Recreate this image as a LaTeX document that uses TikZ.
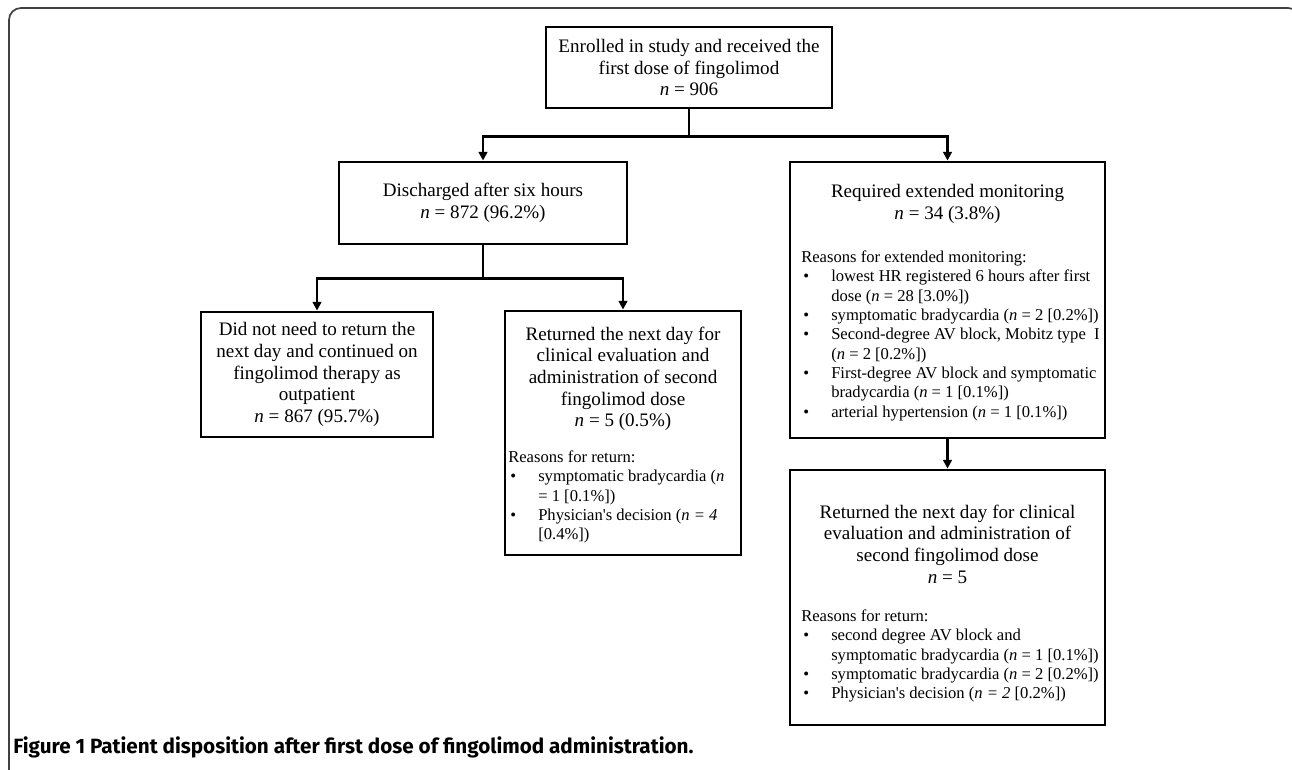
\documentclass[tikz,border=0pt]{standalone}
\usepackage{fontspec}
\setmainfont{Liberation Serif}
\newfontfamily\capfont{Fira Sans}
\usetikzlibrary{arrows.meta,positioning}

\tikzset{
  box/.style={draw=black, line width=2.2pt, inner sep=0pt, align=center,
    font=\fontsize{14.3}{16.3}\selectfont},
  head/.style={anchor=north, inner sep=0pt, align=center,
    font=\fontsize{14.3}{16.3}\selectfont},
  reasons/.style={anchor=north west, inner sep=0pt, align=left,
    font=\fontsize{12.45}{14.5}\selectfont},
  link/.style={line width=1.6pt},
  arrow/.style={link, -{Triangle[length=6.5pt,width=6.5pt]}}
}
\newcommand{\bul}{\makebox[22.5pt][l]{\hspace{1.5pt}\textbullet}}
\newcommand{\ind}{\hspace*{22.5pt}}

\begin{document}
\begin{tikzpicture}[x=0.75pt,y=-0.75pt]
\useasboundingbox (0,0) rectangle (1292,769);
% frame round the figure
\begin{scope}
  \clip (0,0) rectangle (1292,769);
  \draw[line width=1.3pt, draw=black!75, rounded corners=9pt]
    (9,790) -- (9,8) -- (1300,8) -- (1300,80);
\end{scope}

% boxes
\node[box, minimum width=214.5pt, minimum height=60.75pt] (enrol) at (689,67.5)
  {Enrolled in study and received the\\ first dose of fingolimod\\ \textit{n} = 906};
\node[box, minimum width=216pt, minimum height=61.5pt] (disch) at (483,203)
  {Discharged after six hours\\ \textit{n} = 872 (96.2\%)};
\node[box, minimum width=236.25pt, minimum height=207pt] (extend) at (947.5,300) {};
\node[box, minimum width=174pt, minimum height=93.75pt] (outpt) at (317,374.5)
  {Did not need to return the\\ next day and continued on\\ fingolimod therapy as\\ outpatient\\ \textit{n} = 867 (95.7\%)};
\node[box, minimum width=177pt, minimum height=183pt] (retA) at (623,433) {};
\node[box, minimum width=236.25pt, minimum height=191.25pt] (retB) at (947.5,597.5) {};

% texts inside the tall boxes
\node[head] (extendhead) at (947.5,184.3)
  {Required extended monitoring\\ \textit{n} = 34 (3.8\%)};
\node[reasons] (extendlist) at (801,250.4)
  {Reasons for extended monitoring:\\
   \bul lowest HR registered 6 hours after first\\
   \ind dose (\textit{n} = 28 [3.0\%])\\
   \bul symptomatic bradycardia (\textit{n} = 2 [0.2\%])\\
   \bul Second-degree AV block, Mobitz type \ I\\
   \ind (\textit{n} = 2 [0.2\%])\\
   \bul First-degree AV block and symptomatic\\
   \ind bradycardia (\textit{n} = 1 [0.1\%])\\
   \bul arterial hypertension (\textit{n} = 1 [0.1\%])};

\node[head] (retAhead) at (623,326.3)
  {Returned the next day for\\ clinical evaluation and\\ administration of second\\ fingolimod dose\\ \textit{n} = 5 (0.5\%)};
\node[reasons] (retAlist) at (508,450.4)
  {Reasons for return:\\
   \bul symptomatic bradycardia (\textit{n}\\
   \ind = 1 [0.1\%])\\
   \bul Physician\textquotesingle s decision (\textit{n = 4}\\
   \ind [0.4\%])};

\node[head] (retBhead) at (947.5,504.3)
  {Returned the next day for clinical\\ evaluation and administration of\\ second fingolimod dose\\ \textit{n} = 5};
\node[reasons] (retBlist) at (801,609.4)
  {Reasons for return:\\
   \bul second degree AV block and\\
   \ind symptomatic bradycardia (\textit{n} = 1 [0.1\%])\\
   \bul symptomatic bradycardia (\textit{n} = 2 [0.2\%])\\
   \bul Physician\textquotesingle s decision (\textit{n = 2} [0.2\%])};

% connectors
\draw[link] (enrol.south) -- ++(0,27) coordinate (fork1);
\draw[arrow] (fork1) -| (disch.north);
\draw[arrow] (fork1) -| (extend.north);
\draw[link] (disch.south) -- ++(0,33) coordinate (fork2);
\draw[arrow] (fork2) -| (outpt.north);
\draw[arrow] (fork2) -| (retA.north);
\draw[arrow] (extend.south) -- (retB.north);

% caption
\node[anchor=base west, inner sep=0pt, font=\capfont\bfseries\fontsize{15.5}{18}\selectfont]
  (caption) at (13,753) {Figure 1 Patient disposition after first dose of fingolimod administration.};
\end{tikzpicture}
\end{document}
